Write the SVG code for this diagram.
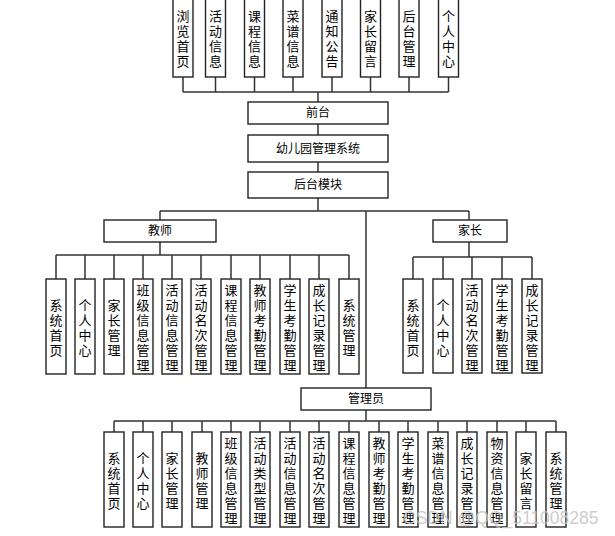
<svg xmlns="http://www.w3.org/2000/svg" width="615" height="536" viewBox="0 0 615 536">
<style>
.b{fill:#fff;stroke:#222;stroke-width:1.4}
.c{fill:none;stroke:#333;stroke-width:1.5}
text{font-family:"Liberation Sans","Noto Sans CJK SC","Noto Sans CJK JP",sans-serif;fill:#000;dominant-baseline:central;text-anchor:middle}
.v{font-size:13px}
.h{font-size:12px}
.wm{font-family:"Liberation Sans",Arial,sans-serif;font-size:17.5px;fill:#c4c4c4;fill-opacity:0.85;text-anchor:start}
</style>
<rect width="615" height="536" fill="#fff"/>
<g id="connectors">
<path class="c" d="M183,92H448.5M183,77V92M215.5,77V92M254.5,77V92M293,77V92M332,77V92M370.5,77V92M409,77V92M448.5,77V92M318,92V102"/>
<path class="c" d="M318,124V135M318,162V172M318,198V211M160,211H469M160,211V220M469,211V220M366,211V388"/>
<path class="c" d="M160,242V255M56,255H349M56,255V279M85,255V279M114,255V279M143,255V279M172,255V279M201,255V279M231,255V279M260,255V279M290,255V279M319,255V279M349,255V279"/>
<path class="c" d="M469,242V257M413,257H532M413,257V279M443,257V279M472,257V279M502,257V279M532,257V279"/>
<path class="c" d="M366,410V421M114,421H556M114,421V432M143,421V432M172,421V432M202,421V432M231,421V432M260,421V432M290,421V432M319,421V432M349,421V432M379,421V432M408,421V432M438,421V432M467,421V432M497,421V432M526,421V432M556,421V432"/>
</g>
<g id="t1"><rect class="b" x="173" y="-2" width="20" height="79"/><text class="v"><tspan x="183" y="16">浏</tspan><tspan x="183" y="31">览</tspan><tspan x="183" y="46">首</tspan><tspan x="183" y="61">页</tspan></text></g>
<g id="t2"><rect class="b" x="205.5" y="-2" width="20" height="79"/><text class="v"><tspan x="215.5" y="16">活</tspan><tspan x="215.5" y="31">动</tspan><tspan x="215.5" y="46">信</tspan><tspan x="215.5" y="61">息</tspan></text></g>
<g id="t3"><rect class="b" x="244.5" y="-2" width="20" height="79"/><text class="v"><tspan x="254.5" y="16">课</tspan><tspan x="254.5" y="31">程</tspan><tspan x="254.5" y="46">信</tspan><tspan x="254.5" y="61">息</tspan></text></g>
<g id="t4"><rect class="b" x="283" y="-2" width="20" height="79"/><text class="v"><tspan x="293" y="16">菜</tspan><tspan x="293" y="31">谱</tspan><tspan x="293" y="46">信</tspan><tspan x="293" y="61">息</tspan></text></g>
<g id="t5"><rect class="b" x="322" y="-2" width="20" height="79"/><text class="v"><tspan x="332" y="16">通</tspan><tspan x="332" y="31">知</tspan><tspan x="332" y="46">公</tspan><tspan x="332" y="61">告</tspan></text></g>
<g id="t6"><rect class="b" x="360.5" y="-2" width="20" height="79"/><text class="v"><tspan x="370.5" y="16">家</tspan><tspan x="370.5" y="31">长</tspan><tspan x="370.5" y="46">留</tspan><tspan x="370.5" y="61">言</tspan></text></g>
<g id="t7"><rect class="b" x="399" y="-2" width="20" height="79"/><text class="v"><tspan x="409" y="16">后</tspan><tspan x="409" y="31">台</tspan><tspan x="409" y="46">管</tspan><tspan x="409" y="61">理</tspan></text></g>
<g id="t8"><rect class="b" x="438.5" y="-2" width="20" height="79"/><text class="v"><tspan x="448.5" y="16">个</tspan><tspan x="448.5" y="31">人</tspan><tspan x="448.5" y="46">中</tspan><tspan x="448.5" y="61">心</tspan></text></g>
<g id="qiantai"><rect class="b" x="248" y="102" width="140" height="22"/><text class="h" x="318" y="113">前台</text></g>
<g id="system"><rect class="b" x="248" y="135" width="140" height="27"/><text class="h" x="318" y="148.5">幼儿园管理系统</text></g>
<g id="houtai"><rect class="b" x="248" y="172" width="140" height="26"/><text class="h" x="318" y="185">后台模块</text></g>
<g id="teacher"><rect class="b" x="104" y="220" width="112" height="22"/><text class="h" x="160" y="231">教师</text></g>
<g id="parent"><rect class="b" x="433" y="220" width="74" height="22"/><text class="h" x="470" y="231">家长</text></g>
<g id="admin"><rect class="b" x="301" y="388" width="130" height="22"/><text class="h" x="366" y="399">管理员</text></g>
<g id="tc1"><rect class="b" x="46" y="279" width="20" height="95"/><text class="v"><tspan x="56" y="305">系</tspan><tspan x="56" y="320">统</tspan><tspan x="56" y="335">首</tspan><tspan x="56" y="350">页</tspan></text></g>
<g id="tc2"><rect class="b" x="75" y="279" width="20" height="95"/><text class="v"><tspan x="85" y="305">个</tspan><tspan x="85" y="320">人</tspan><tspan x="85" y="335">中</tspan><tspan x="85" y="350">心</tspan></text></g>
<g id="tc3"><rect class="b" x="104" y="279" width="20" height="95"/><text class="v"><tspan x="114" y="305">家</tspan><tspan x="114" y="320">长</tspan><tspan x="114" y="335">管</tspan><tspan x="114" y="350">理</tspan></text></g>
<g id="tc4"><rect class="b" x="133" y="279" width="20" height="95"/><text class="v"><tspan x="143" y="290">班</tspan><tspan x="143" y="305">级</tspan><tspan x="143" y="320">信</tspan><tspan x="143" y="335">息</tspan><tspan x="143" y="350">管</tspan><tspan x="143" y="365">理</tspan></text></g>
<g id="tc5"><rect class="b" x="162" y="279" width="20" height="95"/><text class="v"><tspan x="172" y="290">活</tspan><tspan x="172" y="305">动</tspan><tspan x="172" y="320">信</tspan><tspan x="172" y="335">息</tspan><tspan x="172" y="350">管</tspan><tspan x="172" y="365">理</tspan></text></g>
<g id="tc6"><rect class="b" x="191" y="279" width="20" height="95"/><text class="v"><tspan x="201" y="290">活</tspan><tspan x="201" y="305">动</tspan><tspan x="201" y="320">名</tspan><tspan x="201" y="335">次</tspan><tspan x="201" y="350">管</tspan><tspan x="201" y="365">理</tspan></text></g>
<g id="tc7"><rect class="b" x="221" y="279" width="20" height="95"/><text class="v"><tspan x="231" y="290">课</tspan><tspan x="231" y="305">程</tspan><tspan x="231" y="320">信</tspan><tspan x="231" y="335">息</tspan><tspan x="231" y="350">管</tspan><tspan x="231" y="365">理</tspan></text></g>
<g id="tc8"><rect class="b" x="250" y="279" width="20" height="95"/><text class="v"><tspan x="260" y="290">教</tspan><tspan x="260" y="305">师</tspan><tspan x="260" y="320">考</tspan><tspan x="260" y="335">勤</tspan><tspan x="260" y="350">管</tspan><tspan x="260" y="365">理</tspan></text></g>
<g id="tc9"><rect class="b" x="280" y="279" width="20" height="95"/><text class="v"><tspan x="290" y="290">学</tspan><tspan x="290" y="305">生</tspan><tspan x="290" y="320">考</tspan><tspan x="290" y="335">勤</tspan><tspan x="290" y="350">管</tspan><tspan x="290" y="365">理</tspan></text></g>
<g id="tc10"><rect class="b" x="309" y="279" width="20" height="95"/><text class="v"><tspan x="319" y="290">成</tspan><tspan x="319" y="305">长</tspan><tspan x="319" y="320">记</tspan><tspan x="319" y="335">录</tspan><tspan x="319" y="350">管</tspan><tspan x="319" y="365">理</tspan></text></g>
<g id="tc11"><rect class="b" x="339" y="279" width="20" height="95"/><text class="v"><tspan x="349" y="305">系</tspan><tspan x="349" y="320">统</tspan><tspan x="349" y="335">管</tspan><tspan x="349" y="350">理</tspan></text></g>
<g id="pc1"><rect class="b" x="403" y="279" width="20" height="94"/><text class="v"><tspan x="413" y="305">系</tspan><tspan x="413" y="320">统</tspan><tspan x="413" y="335">首</tspan><tspan x="413" y="350">页</tspan></text></g>
<g id="pc2"><rect class="b" x="433" y="279" width="20" height="94"/><text class="v"><tspan x="443" y="305">个</tspan><tspan x="443" y="320">人</tspan><tspan x="443" y="335">中</tspan><tspan x="443" y="350">心</tspan></text></g>
<g id="pc3"><rect class="b" x="462" y="279" width="20" height="94"/><text class="v"><tspan x="472" y="290">活</tspan><tspan x="472" y="305">动</tspan><tspan x="472" y="320">名</tspan><tspan x="472" y="335">次</tspan><tspan x="472" y="350">管</tspan><tspan x="472" y="365">理</tspan></text></g>
<g id="pc4"><rect class="b" x="492" y="279" width="20" height="94"/><text class="v"><tspan x="502" y="290">学</tspan><tspan x="502" y="305">生</tspan><tspan x="502" y="320">考</tspan><tspan x="502" y="335">勤</tspan><tspan x="502" y="350">管</tspan><tspan x="502" y="365">理</tspan></text></g>
<g id="pc5"><rect class="b" x="522" y="279" width="20" height="94"/><text class="v"><tspan x="532" y="290">成</tspan><tspan x="532" y="305">长</tspan><tspan x="532" y="320">记</tspan><tspan x="532" y="335">录</tspan><tspan x="532" y="350">管</tspan><tspan x="532" y="365">理</tspan></text></g>
<g id="ac1"><rect class="b" x="104" y="432" width="20" height="95"/><text class="v"><tspan x="114" y="458">系</tspan><tspan x="114" y="473">统</tspan><tspan x="114" y="488">首</tspan><tspan x="114" y="503">页</tspan></text></g>
<g id="ac2"><rect class="b" x="133" y="432" width="20" height="95"/><text class="v"><tspan x="143" y="458">个</tspan><tspan x="143" y="473">人</tspan><tspan x="143" y="488">中</tspan><tspan x="143" y="503">心</tspan></text></g>
<g id="ac3"><rect class="b" x="162" y="432" width="20" height="95"/><text class="v"><tspan x="172" y="458">家</tspan><tspan x="172" y="473">长</tspan><tspan x="172" y="488">管</tspan><tspan x="172" y="503">理</tspan></text></g>
<g id="ac4"><rect class="b" x="192" y="432" width="20" height="95"/><text class="v"><tspan x="202" y="458">教</tspan><tspan x="202" y="473">师</tspan><tspan x="202" y="488">管</tspan><tspan x="202" y="503">理</tspan></text></g>
<g id="ac5"><rect class="b" x="221" y="432" width="20" height="95"/><text class="v"><tspan x="231" y="443">班</tspan><tspan x="231" y="458">级</tspan><tspan x="231" y="473">信</tspan><tspan x="231" y="488">息</tspan><tspan x="231" y="503">管</tspan><tspan x="231" y="518">理</tspan></text></g>
<g id="ac6"><rect class="b" x="250" y="432" width="20" height="95"/><text class="v"><tspan x="260" y="443">活</tspan><tspan x="260" y="458">动</tspan><tspan x="260" y="473">类</tspan><tspan x="260" y="488">型</tspan><tspan x="260" y="503">管</tspan><tspan x="260" y="518">理</tspan></text></g>
<g id="ac7"><rect class="b" x="280" y="432" width="20" height="95"/><text class="v"><tspan x="290" y="443">活</tspan><tspan x="290" y="458">动</tspan><tspan x="290" y="473">信</tspan><tspan x="290" y="488">息</tspan><tspan x="290" y="503">管</tspan><tspan x="290" y="518">理</tspan></text></g>
<g id="ac8"><rect class="b" x="309" y="432" width="20" height="95"/><text class="v"><tspan x="319" y="443">活</tspan><tspan x="319" y="458">动</tspan><tspan x="319" y="473">名</tspan><tspan x="319" y="488">次</tspan><tspan x="319" y="503">管</tspan><tspan x="319" y="518">理</tspan></text></g>
<g id="ac9"><rect class="b" x="339" y="432" width="20" height="95"/><text class="v"><tspan x="349" y="443">课</tspan><tspan x="349" y="458">程</tspan><tspan x="349" y="473">信</tspan><tspan x="349" y="488">息</tspan><tspan x="349" y="503">管</tspan><tspan x="349" y="518">理</tspan></text></g>
<g id="ac10"><rect class="b" x="369" y="432" width="20" height="95"/><text class="v"><tspan x="379" y="443">教</tspan><tspan x="379" y="458">师</tspan><tspan x="379" y="473">考</tspan><tspan x="379" y="488">勤</tspan><tspan x="379" y="503">管</tspan><tspan x="379" y="518">理</tspan></text></g>
<g id="ac11"><rect class="b" x="398" y="432" width="20" height="95"/><text class="v"><tspan x="408" y="443">学</tspan><tspan x="408" y="458">生</tspan><tspan x="408" y="473">考</tspan><tspan x="408" y="488">勤</tspan><tspan x="408" y="503">管</tspan><tspan x="408" y="518">理</tspan></text></g>
<g id="ac12"><rect class="b" x="428" y="432" width="20" height="95"/><text class="v"><tspan x="438" y="443">菜</tspan><tspan x="438" y="458">谱</tspan><tspan x="438" y="473">信</tspan><tspan x="438" y="488">息</tspan><tspan x="438" y="503">管</tspan><tspan x="438" y="518">理</tspan></text></g>
<g id="ac13"><rect class="b" x="457" y="432" width="20" height="95"/><text class="v"><tspan x="467" y="443">成</tspan><tspan x="467" y="458">长</tspan><tspan x="467" y="473">记</tspan><tspan x="467" y="488">录</tspan><tspan x="467" y="503">管</tspan><tspan x="467" y="518">理</tspan></text></g>
<g id="ac14"><rect class="b" x="487" y="432" width="20" height="95"/><text class="v"><tspan x="497" y="443">物</tspan><tspan x="497" y="458">资</tspan><tspan x="497" y="473">信</tspan><tspan x="497" y="488">息</tspan><tspan x="497" y="503">管</tspan><tspan x="497" y="518">理</tspan></text></g>
<g id="ac15"><rect class="b" x="516" y="432" width="20" height="95"/><text class="v"><tspan x="526" y="458">家</tspan><tspan x="526" y="473">长</tspan><tspan x="526" y="488">留</tspan><tspan x="526" y="503">言</tspan></text></g>
<g id="ac16"><rect class="b" x="546" y="432" width="20" height="95"/><text class="v"><tspan x="556" y="458">系</tspan><tspan x="556" y="473">统</tspan><tspan x="556" y="488">管</tspan><tspan x="556" y="503">理</tspan></text></g>
<text class="wm" x="403" y="518">CSDN @QQ_511008285</text>
</svg>
